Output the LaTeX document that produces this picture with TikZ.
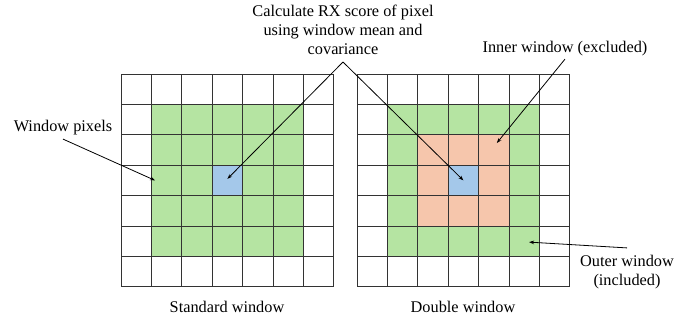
\documentclass[tikz,border=0pt]{standalone}
\usepackage{fontspec}
\setmainfont{Liberation Serif}
\usetikzlibrary{arrows.meta}
\definecolor{pixgreen}{RGB}{181,228,162}
\definecolor{pixblue}{RGB}{164,200,234}
\definecolor{pixpeach}{RGB}{246,198,172}

\begin{document}
\begin{tikzpicture}[x=1pt, y=-1pt,
  gridline/.style={black!80, line width=0.9pt},
  pointer/.style={-{Stealth[length=5pt,width=3.6pt]}, line width=0.8pt},
  lbl/.style={font=\fontsize{16.3}{19}\selectfont, align=center, inner sep=1.5pt}]
\useasboundingbox (0,0) rectangle (699,322);

% standard window
\begin{scope}[shift={(121,74)}, x=30.4pt, y=-30.4pt]
\fill[pixgreen] (1,1) rectangle (6,6);
\fill[pixblue] (3,3) rectangle (4,4);
\foreach \i in {0,...,7} {
  \draw[gridline] (\i,0) -- (\i,7);
  \draw[gridline] (0,\i) -- (7,\i);
}
\coordinate (stdcenter) at (3.5,3.45);
\coordinate (stdpix) at (1.12,3.5);
\end{scope}

% double window
\begin{scope}[shift={(357,74)}, x=30.4pt, y=-30.4pt]
\fill[pixgreen] (1,1) rectangle (6,6);
\fill[pixpeach] (2,2) rectangle (5,5);
\fill[pixblue] (3,3) rectangle (4,4);
\foreach \i in {0,...,7} {
  \draw[gridline] (\i,0) -- (\i,7);
  \draw[gridline] (0,\i) -- (7,\i);
}
\coordinate (dblcenter) at (3.5,3.5);
\coordinate (innerpix) at (4.6,2.27);
\coordinate (outerpix) at (5.66,5.53);
\end{scope}

\node[lbl] (rxlabel) at (343,30) {Calculate RX score of pixel\\using window mean and\\covariance};
\coordinate (apex) at (343,62);
\node[lbl] (pixlabel) at (63,128) {Window pixels};
\node[lbl] (innerlabel) at (565,49) {Inner window (excluded)};
\node[lbl] (outerlabel) at (627,272.5) {Outer window\\(included)};
\node[lbl] (stdlabel) at (227,307) {Standard window};
\node[lbl] (dbllabel) at (463,307) {Double window};

\draw[pointer] (apex) -- (stdcenter);
\draw[pointer] (apex) -- (dblcenter);
\draw[pointer] ([yshift=-2pt]pixlabel.south) -- (stdpix);
\draw[pointer] ([yshift=-1pt]innerlabel.south) -- (innerpix);
\draw[pointer] ([yshift=6pt]outerlabel.north) -- (outerpix);
\end{tikzpicture}
\end{document}
